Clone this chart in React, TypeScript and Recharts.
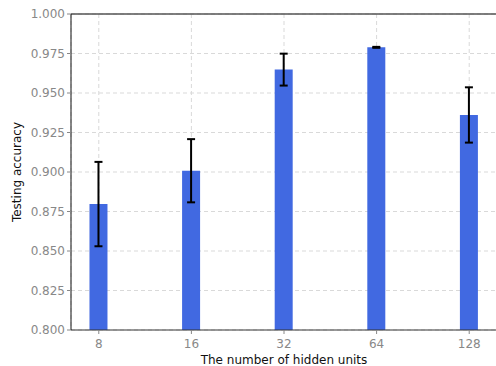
import React from 'react';
import {
  BarChart, Bar, XAxis, YAxis, CartesianGrid, ErrorBar, ReferenceLine
} from 'recharts';

// hidden units on the x axis (categorical, placed at 0..4)
const unitLabels = ['8', '16', '32', '64', '128'];
const accuracy = [0.8797, 0.9008, 0.9648, 0.9789, 0.9361];
const accuracyErr = [0.0267, 0.0200, 0.0101, 0.0003, 0.0175];
const yTicks = [0.8, 0.825, 0.85, 0.875, 0.9, 0.925, 0.95, 0.975, 1.0];

const data = unitLabels.map((label, i) => ({
  x: i,
  label,
  acc: accuracy[i],
  err: accuracyErr[i],
}));

const FONT = '"DejaVu Sans", sans-serif';

const App: React.FC = () => {
  return (
    <div style={{ position: 'absolute', left: 0, top: 0, width: 496, height: 366, overflow: 'hidden', background: '#fff' }}>
      <BarChart
        width={497}
        height={366}
        data={data}
        margin={{ top: 14, right: 0, bottom: 0, left: 0 }}
        style={{ fontFamily: FONT }}
      >
        <CartesianGrid stroke="#d9d9d9" strokeDasharray="4 3" />
        <XAxis
          type="number"
          dataKey="x"
          domain={[-0.3, 4.3]}
          ticks={[0, 1, 2, 3, 4]}
          tickFormatter={(v: number) => unitLabels[v]}
          height={36}
          stroke="#333"
          tickLine={{ stroke: '#888' }}
          tickSize={4}
          tick={{ fill: '#888', fontSize: 12, fontFamily: FONT, dy: 3 }}
          label={{ value: 'The number of hidden units', position: 'insideBottom', offset: 2, fill: '#111', fontSize: 12, fontFamily: FONT }}
        />
        <YAxis
          type="number"
          domain={[0.8, 1.0]}
          ticks={yTicks}
          allowDataOverflow
          tickFormatter={(v: number) => v.toFixed(3)}
          width={71}
          stroke="#111"
          tickLine={{ stroke: '#888' }}
          tickSize={4}
          tick={{ fill: '#888', fontSize: 12, fontFamily: FONT }}
          label={{ value: 'Testing accuracy', angle: -90, position: 'insideLeft', offset: 17, fill: '#111', fontSize: 12, fontFamily: FONT, style: { textAnchor: 'middle' } }}
        />
        <ReferenceLine y={1.0} stroke="#555" strokeWidth={1.5} />
        <Bar dataKey="acc" fill="#4169E1" barSize={18} isAnimationActive={false}>
          <ErrorBar dataKey="err" width={4} stroke="#000" strokeWidth={2} direction="y" />
        </Bar>
      </BarChart>
    </div>
  );
};

export default App;
